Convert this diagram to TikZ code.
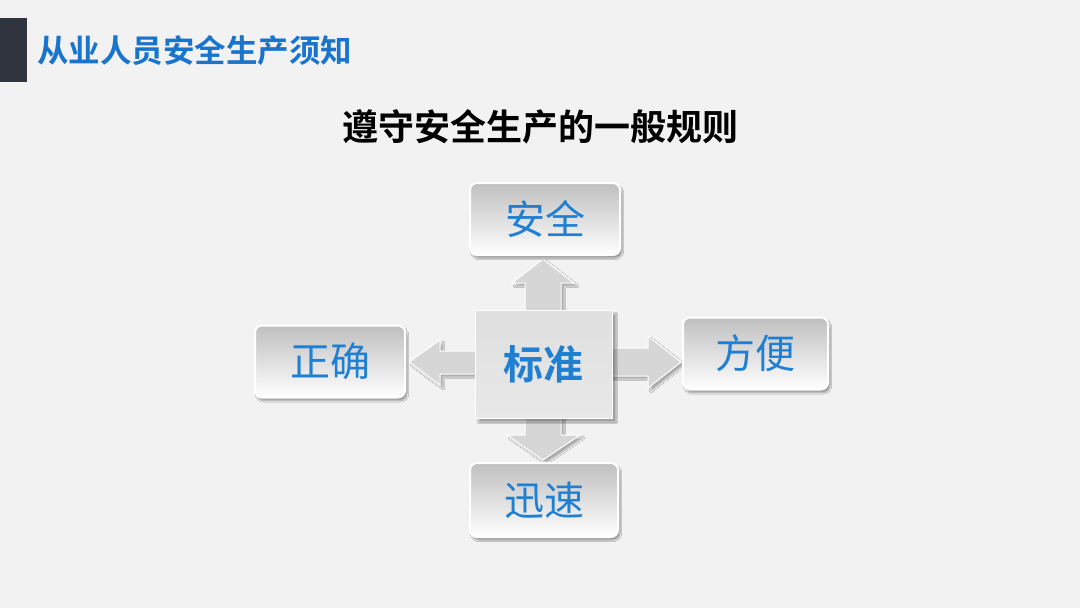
\documentclass[tikz,border=0pt]{standalone}
\usepackage{fontspec}
\newfontfamily\cjk{Noto Sans CJK SC}
\newfontfamily\cjkb{Noto Sans CJK SC Bold}
\usetikzlibrary{shadows.blur}
\definecolor{bg}{HTML}{F2F2F2}
\definecolor{barc}{HTML}{30343F}
\definecolor{titleblue}{HTML}{1874CD}
\definecolor{txtblue}{HTML}{1F7FD2}
\definecolor{arrowgray}{HTML}{D6D6D6}
\tikzset{
  optbox/.style={draw=white, line width=2pt, rounded corners=7pt,
    left color=gray!50, right color=white, shading angle=0,
    blur shadow={shadow xshift=2pt, shadow yshift=-3pt, shadow blur steps=6, shadow opacity=40},
    minimum width=150pt, minimum height=72pt, inner sep=0pt,
    font=\cjk\fontsize{40}{44}\selectfont, text=txtblue},
  arrowshape/.style={fill=arrowgray, draw=white, line width=1pt,
    blur shadow={shadow xshift=3pt, shadow yshift=-3pt, shadow blur steps=5, shadow opacity=30}},
  centerbox/.style={top color=gray!25, bottom color=gray!18, draw=white, line width=1pt,
    blur shadow={shadow xshift=4pt, shadow yshift=-4pt, shadow blur steps=6, shadow opacity=35},
    minimum width=137pt, minimum height=108pt, inner sep=0pt,
    font=\cjkb\fontsize{40}{44}\selectfont, text=txtblue}
}
\begin{document}
\begin{tikzpicture}[x=1pt,y=-1pt]
\useasboundingbox (0,0) rectangle (1080,608);
\fill[bg] (0,0) rectangle (1080,608);
\fill[barc] (0,18) rectangle (27,82);
\node[anchor=west, text=titleblue, font=\cjkb\fontsize{31.5}{34}\selectfont, inner sep=0pt] (title) at (37,51) {从业人员安全生产须知};
\node[text=black, font=\cjkb\fontsize{36}{40}\selectfont, inner sep=0pt] (subtitle) at (540,127) {遵守安全生产的一般规则};
% arrows
\draw[arrowshape] (525,312) -- (525,283) -- (512,283) -- (543,259) -- (574,283) -- (561,283) -- (561,312) -- cycle;
\draw[arrowshape] (525,412) -- (525,435) -- (507,435) -- (543,460) -- (580,435) -- (561,435) -- (561,412) -- cycle;
\draw[arrowshape] (478,351) -- (440,351) -- (440,340) -- (409,362) -- (440,385) -- (440,374) -- (478,374) -- cycle;
\draw[arrowshape] (610,348) -- (648,348) -- (648,336) -- (681,362) -- (648,388) -- (648,376) -- (610,376) -- cycle;
% center
\node[centerbox] (center) at (543.5,364) {标准};
% boxes
\node[optbox] (top) at (545,219) {安全};
\node[optbox] (left) at (330,361.5) {正确};
\node[optbox, minimum width=145pt] (right) at (755.5,353.5) {方便};
\node[optbox, minimum width=148pt, minimum height=74pt] (bottom) at (544,500) {迅速};
\end{tikzpicture}
\end{document}
